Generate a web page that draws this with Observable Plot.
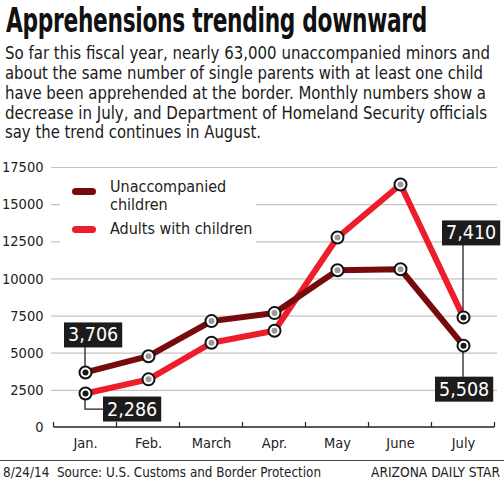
<!DOCTYPE html>
<html>
<head>
<meta charset="utf-8">
<script src="https://cdn.jsdelivr.net/npm/d3@7"></script>
<script src="https://cdn.jsdelivr.net/npm/@observablehq/plot@0.6"></script>
<style>
  html, body { margin: 0; padding: 0; background: #fff; }
  body { width: 504px; height: 486px; position: relative; overflow: hidden;
         font-family: "Liberation Sans Narrow", "DejaVu Sans Condensed", "Roboto", sans-serif; color: #1a1a1a; }
  .abs { position: absolute; white-space: nowrap; transform-origin: 0 0; }
  #title { left: 6px; top: 3px; font-size: 32px; line-height: 1; font-weight: bold; color: #111; letter-spacing: -0.4px; }
  .sub { left: 5px; font-size: 18.5px; color: #1a1a1a; }
  #chart { position: absolute; left: 0; top: 150px; }
  #legend { position: absolute; left: 60px; top: 175px; width: 196px; height: 70px; background: #fff; z-index: 2; }
  .sw { position: absolute; left: 12px; width: 24px; height: 7px; border-radius: 4px; }
  .lt { position: absolute; left: 50px; font-size: 16px; line-height: 18px; color: #222; white-space: nowrap; }
  #rule { position: absolute; left: 0; top: 459.5px; width: 504px; height: 1.6px; background: #444; }
  .foot { top: 464px; font-size: 14.5px; color: #222; }
</style>
</head>
<body>
<div id="title" class="abs">Apprehensions trending downward</div>
<div class="abs sub" data-w="485" style="top:42px">So far this fiscal year, nearly 63,000 unaccompanied minors and</div>
<div class="abs sub" data-w="478" style="top:62px">about the same number of single parents with at least one child</div>
<div class="abs sub" data-w="481" style="top:82px">have been apprehended at the border. Monthly numbers show a</div>
<div class="abs sub" data-w="482" style="top:102px">decrease in July, and Department of Homeland Security officials</div>
<div class="abs sub" data-w="256" style="top:121px">say the trend continues in August.</div>
<div id="chart"></div>
<div id="legend">
  <div class="sw" style="top:13px;background:#760a0c"></div>
  <div class="lt" style="top:3px">Unaccompanied<br>children</div>
  <div class="sw" style="top:51px;background:#ee1d2b"></div>
  <div class="lt" style="top:45px">Adults with children</div>
</div>
<div id="rule"></div>
<div class="abs foot" id="f1" style="left:3px">8/24/14&nbsp; Source: U.S. Customs and Border Protection</div>
<div class="abs foot" id="f2" style="left:371px">ARIZONA DAILY STAR</div>
<script>
// ---- data ----
const months = ["Jan.", "Feb.", "March", "Apr.", "May", "June", "July"];
const unaccompanied = [3706, 4800, 7160, 7700, 10580, 10650, 5508];
const adults = [2286, 3240, 5700, 6510, 12790, 16360, 7410];
const yTicks = [0, 2500, 5000, 7500, 10000, 12500, 15000, 17500];
const seriesNames = ["Unaccompanied children", "Adults with children"];
const labeledMonths = ["Jan.", "July"];

const colors = {"Unaccompanied children": "#760a0c", "Adults with children": "#ee1d2b"};

const rows = [];
months.forEach((m, i) => {
  rows.push({series: seriesNames[0], month: m, value: unaccompanied[i]});
  rows.push({series: seriesNames[1], month: m, value: adults[i]});
});
const labeled = rows.filter(d => labeledMonths.includes(d.month));

// callout box placement (px): left edge offset from point, vertical centre offset
const calloutOffsets = {
  "Unaccompanied children|Jan.": {left: -21, dy: -37, leader: "v"},
  "Adults with children|Jan.": {left: 18, dy: 16, leader: "L"},
  "Unaccompanied children|July": {left: -28, dy: 44, leader: "v"},
  "Adults with children|July": {left: -21, dy: -84, leader: "v"}
};

const fmt = d3.format(",");

function boundaryTicks(index, scales, values, dims) {
  const g = d3.create("svg:g");
  const step = scales.x(months[1]) - scales.x(months[0]);
  const yb = dims.height - dims.marginBottom;
  const xs = [scales.x(months[0]) - step / 2, ...months.map(m => scales.x(m) + step / 2)];
  xs.forEach(x => g.append("line").attr("x1", x).attr("x2", x).attr("y1", yb).attr("y2", yb - 5)
    .attr("stroke", "#222").attr("stroke-width", 1.2));
  g.append("line").attr("x1", xs[0]).attr("x2", xs[xs.length - 1]).attr("y1", yb).attr("y2", yb)
    .attr("stroke", "#222").attr("stroke-width", 1.6);
  return g.node();
}

const padX = 4;
function callouts(index, scales) {
  const g = d3.create("svg:g").attr("class", "callouts");
  labeled.forEach(d => {
    const o = calloutOffsets[d.series + "|" + d.month];
    const px = scales.x(d.month), py = scales.y(d.value);
    const bx = px + o.left, cy = py + o.dy;
    const path = o.leader === "L"
      ? `M${px},${py}V${cy}H${bx + 2}`
      : `M${px},${py}V${cy}`;
    g.append("path").attr("d", path).attr("fill", "none").attr("stroke", "#222").attr("stroke-width", 1.3)
      .attr("class", "leader");
    g.append("text").attr("class", "clabel").attr("x", bx + padX).attr("y", cy)
      .attr("text-anchor", "start").attr("dominant-baseline", "central")
      .attr("fill", "#fff").attr("font-size", 19.5)
      .attr("font-family", '"Liberation Sans Narrow", "DejaVu Sans Condensed", sans-serif')
      .text(fmt(d.value));
  });
  return g.node();
}

const plot = Plot.plot({
  width: 504,
  height: 310,
  marginLeft: 51,
  marginRight: 7,
  marginTop: 17,
  marginBottom: 33,
  style: {fontFamily: '"Liberation Sans Narrow", "DejaVu Sans Condensed", sans-serif', fontSize: "14px", color: "#222", background: "#fff"},
  x: {type: "point", domain: months, padding: 0.5, label: null, axis: null},
  y: {domain: [0, 17500], ticks: yTicks, label: null, tickSize: 0, tickPadding: 8, tickFormat: d => String(d)},
  marks: [
    Plot.gridY(yTicks.slice(1), {stroke: "#c4c4c4", strokeOpacity: 1, strokeWidth: 1.2}),
    Plot.axisY(yTicks, {tickSize: 0, tickPadding: 8, tickFormat: d => String(d), fontSize: 14.5}),
    Plot.axisX(months, {tickSize: 0, tickPadding: 10, fontSize: 14.5, label: null}),
    boundaryTicks,
    Plot.line(rows.filter(d => d.series === seriesNames[1]), {x: "month", y: "value", stroke: colors[seriesNames[1]], strokeWidth: 6, strokeLinejoin: "round", strokeLinecap: "round"}),
    Plot.line(rows.filter(d => d.series === seriesNames[0]), {x: "month", y: "value", stroke: colors[seriesNames[0]], strokeWidth: 6, strokeLinejoin: "round", strokeLinecap: "round"}),
    callouts,
    Plot.dot(rows, {x: "month", y: "value", r: 6, fill: "#fff", stroke: "#111", strokeWidth: 2}),
    Plot.dot(rows, {x: "month", y: "value", r: 3, fill: d => labeledMonths.includes(d.month) ? "#1a1a1a" : "#9a9a9a"})
  ]
});
document.getElementById("chart").appendChild(plot);

// draw black boxes behind callout labels
document.querySelectorAll("text.clabel").forEach(t => {
  const b = t.getBBox();
  const padY = 1;
  const r = document.createElementNS("http://www.w3.org/2000/svg", "rect");
  r.setAttribute("x", b.x - padX);
  r.setAttribute("y", b.y - padY);
  r.setAttribute("width", b.width + 2 * padX);
  r.setAttribute("height", b.height + 2 * padY);
  r.setAttribute("fill", "#1c1c1c");
  t.parentNode.insertBefore(r, t);
});

// fit text widths to the reference layout
function fit(el, w, sy) {
  const cur = el.getBoundingClientRect().width;
  if (cur > 0) el.style.transform = `scale(${w / cur}, ${sy || 1})`;
}
fit(document.getElementById("title"), 421, 1.0625);
document.querySelectorAll(".sub").forEach(el => fit(el, +el.dataset.w));
fit(document.getElementById("f1"), 318);
fit(document.getElementById("f2"), 129);
</script>
</body>
</html>
